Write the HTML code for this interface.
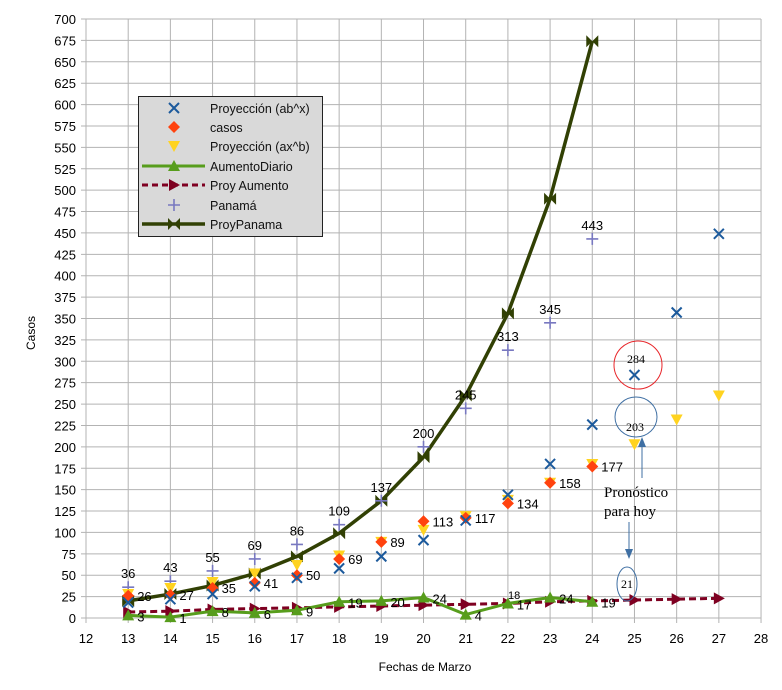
<!DOCTYPE html>
<html><head><meta charset="utf-8"><style>
body{margin:0;background:#fff}
svg{display:block;font-family:"Liberation Sans",sans-serif}
</style></head><body>
<svg id="s" width="782" height="690" xmlns="http://www.w3.org/2000/svg"></svg>
<script>
const S=document.getElementById('s');
const px=x=>86+(x-12)*42.19, py=y=>618-y*0.8557;
let h='';
// grid
for(let x=12;x<=28;x++){h+=`<line x1="${px(x)}" y1="${py(700)}" x2="${px(x)}" y2="${py(0)+5}" stroke="#b3b3b3" stroke-width="1"/>`;
 h+=`<text x="${px(x)}" y="643" font-size="13" text-anchor="middle" fill="#000">${x}</text>`;}
for(let y=0;y<=700;y+=25){h+=`<line x1="${px(12)-5}" y1="${py(y)}" x2="${px(28)}" y2="${py(y)}" stroke="#b3b3b3" stroke-width="1"/>`;
 h+=`<text x="76" y="${py(y)+5}" font-size="13" text-anchor="end" fill="#000">${y}</text>`;}
h+=`<text x="35" y="333" font-size="12" text-anchor="middle" transform="rotate(-90 35 333)">Casos</text>`;
h+=`<text x="425" y="671" font-size="12" text-anchor="middle">Fechas de Marzo</text>`;
const X=(x,y,c='#1c5a9c')=>`<path d="M${x-5} ${y-5}L${x+5} ${y+5}M${x-5} ${y+5}L${x+5} ${y-5}" stroke="${c}" stroke-width="2"/>`;
const D=(x,y)=>`<path d="M${x} ${y-6}L${x+6} ${y}L${x} ${y+6}L${x-6} ${y}Z" fill="#ff420e"/>`;
const TD=(x,y)=>`<path d="M${x-6} ${y-5}L${x+6} ${y-5}L${x} ${y+6}Z" fill="#ffd320"/>`;
const TU=(x,y)=>`<path d="M${x-6} ${y+5}L${x+6} ${y+5}L${x} ${y-6}Z" fill="#579d1c"/>`;
const TR=(x,y)=>`<path d="M${x-5} ${y-6}L${x+6} ${y}L${x-5} ${y+6}Z" fill="#7e0021"/>`;
const P=(x,y)=>`<path d="M${x-6} ${y}L${x+6} ${y}M${x} ${y-6}L${x} ${y+6}" stroke="#7878c0" stroke-width="1.6"/>`;
const BT=(x,y)=>`<path d="M${x-6} ${y-6}L${x+6} ${y+6}L${x+6} ${y-6}L${x-6} ${y+6}Z" fill="#314004"/>`;
const days=[13,14,15,16,17,18,19,20,21,22,23,24,25,26,27];
// ProyPanama
const pp=[20,28,38,52,72,99,137,188,260,356,490,674];
h+=`<polyline fill="none" stroke="#314004" stroke-width="3.5" points="${pp.map((v,i)=>px(days[i])+','+py(v)).join(' ')}"/>`;
pp.forEach((v,i)=>h+=BT(px(days[i]),py(v)));
// Proy aumento
const pa=[7,8,10,11,12,13,14,15,16,17,19,20,21,22,23];
h+=`<polyline fill="none" stroke="#7e0021" stroke-width="3" stroke-dasharray="7,4" points="${pa.map((v,i)=>px(days[i])+','+py(v)).join(' ')}"/>`;
pa.forEach((v,i)=>h+=TR(px(days[i]),py(v)));
// Aumento diario
const ad=[3,1,8,6,9,19,20,24,4,17,24,19];
h+=`<polyline fill="none" stroke="#579d1c" stroke-width="3" points="${ad.map((v,i)=>px(days[i])+','+py(v)).join(' ')}"/>`;
ad.forEach((v,i)=>{h+=TU(px(days[i]),py(v));h+=`<text x="${px(days[i])+9}" y="${py(v)+6}" font-size="13">${v}</text>`;});
h+=`<text x="508" y="599" font-size="11">18</text>`;
// Panamá
const pn=[36,43,55,69,86,109,137,200,245,313,345,443];
pn.forEach((v,i)=>{h+=P(px(days[i]),py(v));h+=`<text x="${px(days[i])}" y="${py(v)-9}" font-size="13" text-anchor="middle">${v}</text>`;});
// ax^b
const ab=[28,35,42,52,62,73,89,103,119,138,158,180,203,232,260];
ab.forEach((v,i)=>h+=TD(px(days[i]),py(v)));
// casos
const cs=[26,27,35,41,50,69,89,113,117,134,158,177];
cs.forEach((v,i)=>{h+=D(px(days[i]),py(v));h+=`<text x="${px(days[i])+9}" y="${py(v)+5}" font-size="13">${v}</text>`;});
// ab^x
const ax=[18,22,28,37,47,58,72,91,114,144,180,226,284,357,449];
ax.forEach((v,i)=>h+=X(px(days[i]),py(v)));
// annotations
h+=`<circle cx="638" cy="365" r="24" fill="none" stroke="#e8262a" stroke-width="1"/>`;
h+=`<text x="636" y="363" font-size="12" text-anchor="middle" font-family="Liberation Serif,serif">284</text>`;
h+=`<ellipse cx="636" cy="417" rx="21" ry="20" fill="none" stroke="#3f6fa3" stroke-width="1"/>`;
h+=`<text x="635" y="431" font-size="12" text-anchor="middle" font-family="Liberation Serif,serif">203</text>`;
h+=`<ellipse cx="627" cy="584" rx="10" ry="17" fill="none" stroke="#3f6fa3" stroke-width="1"/>`;
h+=`<text x="627" y="588" font-size="12" text-anchor="middle" font-family="Liberation Serif,serif">21</text>`;
h+=`<text x="604" y="497" font-size="15" font-family="Liberation Serif,serif">Pronóstico</text>`;
h+=`<text x="604" y="516" font-size="15" font-family="Liberation Serif,serif">para hoy</text>`;
h+=`<line x1="642" y1="478" x2="642" y2="445" stroke="#3f6fa3" stroke-width="1"/><path d="M638 447L642 437L646 447Z" fill="#3f6fa3"/>`;
h+=`<line x1="629" y1="522" x2="629" y2="551" stroke="#3f6fa3" stroke-width="1"/><path d="M625 549L629 559L633 549Z" fill="#3f6fa3"/>`;
// legend
h+=`<rect x="138.5" y="96.5" width="184" height="140" fill="#d9d9d9" stroke="#222" stroke-width="1"/>`;
const ly=[108,127,146,166,185,205,224];
const lab=['Proyección (ab^x)','casos','Proyección (ax^b)','AumentoDiario','Proy Aumento','Panamá','ProyPanama'];
lab.forEach((t,i)=>h+=`<text x="210" y="${ly[i]+5}" font-size="12.5" fill="#111">${t}</text>`);
h+=X(174,ly[0]);h+=D(174,ly[1]);h+=TD(174,ly[2]);
h+=`<line x1="142" y1="${ly[3]}" x2="205" y2="${ly[3]}" stroke="#579d1c" stroke-width="3"/>`+TU(174,ly[3]);
h+=`<line x1="142" y1="${ly[4]}" x2="205" y2="${ly[4]}" stroke="#7e0021" stroke-width="3" stroke-dasharray="6,4"/>`+TR(174,ly[4]);
h+=P(174,ly[5]);
h+=`<line x1="142" y1="${ly[6]}" x2="205" y2="${ly[6]}" stroke="#314004" stroke-width="3.5"/>`+BT(174,ly[6]);
S.innerHTML=h;
</script>
</body></html>
